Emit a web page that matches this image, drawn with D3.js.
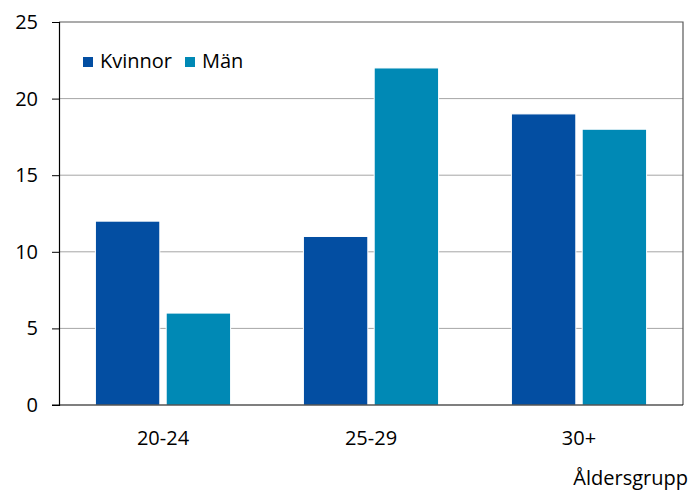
<!DOCTYPE html>
<html>
<head>
<meta charset="utf-8">
<script src="https://cdn.jsdelivr.net/npm/d3@7"></script>
<style>
  body { margin: 0; background: #fff; }
  text { font-family: "Open Sans", "Noto Sans", sans-serif; fill: #000; }
</style>
</head>
<body>
<svg id="chart" width="691" height="491"></svg>
<script>
const categories = ["20-24", "25-29", "30+"];
const seriesNames = ["Kvinnor", "Män"];
const kvinnor = [12, 11, 19];
const man = [6, 22, 18];
const yTicks = [0, 5, 10, 15, 20, 25];
const colors = ["#034ea2", "#0089b5"];

const margin = {left: 59, right: 8, top: 22, bottom: 86};
const w = 691, h = 491;
const innerW = w - margin.left - margin.right;
const innerH = h - margin.top - margin.bottom;
const fs = 20;

const svg = d3.select("#chart");
const g = svg.append("g").attr("transform", `translate(${margin.left},${margin.top})`);

const x = d3.scaleBand().domain(categories).range([0, innerW]).paddingInner(0.35).paddingOuter(0.175);
const xs = d3.scaleBand().domain(seriesNames).range([0, x.bandwidth()]).paddingInner(0.09);
const y = d3.scaleLinear().domain([0, 25]).range([innerH, 0]);

// gridlines
g.selectAll("line.grid").data(yTicks.filter(d => d > 0 && d < 25)).enter()
  .append("line")
  .attr("x1", 0).attr("x2", innerW)
  .attr("y1", d => y(d)).attr("y2", d => y(d))
  .attr("stroke", "#a6a6a6").attr("stroke-width", 1);

// frame top/right
g.append("path")
  .attr("d", `M0,0H${innerW}V${innerH}`)
  .attr("fill", "none").attr("stroke", "#595959").attr("stroke-width", 1.2);

const data = categories.map((c, i) => ({cat: c, vals: [kvinnor[i], man[i]]}));

const groups = g.selectAll("g.grp").data(data).enter().append("g")
  .attr("transform", d => `translate(${x(d.cat)},0)`);

groups.selectAll("rect").data(d => d.vals.map((v, j) => ({name: seriesNames[j], v, j}))).enter()
  .append("rect")
  .attr("x", d => xs(d.name))
  .attr("width", xs.bandwidth())
  .attr("y", d => y(d.v))
  .attr("height", d => innerH - y(d.v))
  .attr("fill", d => colors[d.j])
  .attr("stroke", "#ffffff").attr("stroke-width", 1);

// y axis
const yAxis = g.append("g").call(d3.axisLeft(y).tickValues(yTicks).tickSize(7).tickPadding(14));
yAxis.select(".domain").attr("stroke", "#000").attr("stroke-width", 1.2);
yAxis.selectAll(".tick line").attr("stroke", "#000");
yAxis.selectAll(".tick text").attr("font-size", fs).style("font-family", "'Open Sans', sans-serif").attr("fill", "#000");

// x axis baseline
g.append("line").attr("x1", -7).attr("x2", innerW).attr("y1", innerH).attr("y2", innerH)
  .attr("stroke", "#000").attr("stroke-width", 1.2);

g.selectAll("text.xlab").data(categories).enter().append("text")
  .attr("x", d => x(d) + x.bandwidth() / 2)
  .attr("y", innerH + 40)
  .attr("text-anchor", "middle")
  .attr("font-size", fs)
  .text(d => d);

svg.append("text").attr("x", 688).attr("y", 485).attr("text-anchor", "end")
  .attr("font-size", fs).text("Åldersgrupp");

// legend
const legendX = [83, 185];
const legend = svg.selectAll("g.leg").data(seriesNames).enter().append("g")
  .attr("transform", (d, i) => `translate(${legendX[i]},57)`);
legend.append("rect").attr("width", 10).attr("height", 10).attr("fill", (d, i) => colors[i]);
legend.append("text").attr("x", 17).attr("y", 11).attr("font-size", fs).text(d => d);
</script>
</body>
</html>
